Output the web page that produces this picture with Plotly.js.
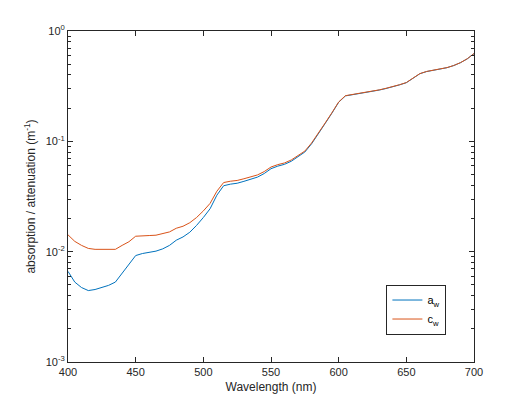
<!DOCTYPE html>
<html>
<head>
<meta charset="utf-8">
<script src="https://cdn.plot.ly/plotly-3.0.1.min.js"></script>
<style>
html,body{margin:0;padding:0;background:#fff;}
#chart{width:525px;height:407px;}
</style>
</head>
<body>
<div id="chart"></div>
<script>
var wavelength = [400,405,410,415,420,425,430,435,440,445,450,455,460,465,470,475,480,485,490,495,
  500,505,510,515,520,525,530,535,540,545,550,555,560,565,570,575,580,585,590,595,
  600,605,610,615,620,625,630,635,640,645,650,655,660,665,670,675,680,685,690,695,700];

var a_w = [0.00663,0.00530,0.00473,0.00444,0.00454,0.00478,0.00495,0.00530,0.00635,0.00751,
  0.00922,0.00962,0.00979,0.01011,0.0106,0.0114,0.0127,0.0136,0.0150,0.0173,
  0.0204,0.0245,0.0325,0.0396,0.0409,0.0417,0.0434,0.0452,0.0474,0.0511,
  0.0565,0.0596,0.0619,0.0660,0.0725,0.0800,0.0950,0.1160,0.1450,0.1800,
  0.2260,0.2580,0.2644,0.2678,0.2755,0.2834,0.2916,0.3012,0.3108,0.3250,
  0.3400,0.3710,0.4100,0.4290,0.4390,0.4480,0.4650,0.4860,0.5160,0.5590,0.6240];

var c_w = [0.0142,0.0124,0.0114,0.0107,0.0105,0.0105,0.0104,0.0105,0.0114,0.0123,
  0.0138,0.0140,0.0140,0.0141,0.0145,0.0151,0.0163,0.0170,0.0183,0.0204,
  0.0234,0.0274,0.0353,0.0423,0.0435,0.0442,0.0458,0.0475,0.0496,0.0532,
  0.0585,0.0615,0.0637,0.0678,0.0742,0.0816,0.0966,0.1175,0.1465,0.1814,
  0.2274,0.2593,0.2657,0.2690,0.2767,0.2845,0.2927,0.3023,0.3118,0.3260,
  0.3410,0.3720,0.4109,0.4299,0.4399,0.4488,0.4658,0.4868,0.5168,0.5597,0.6247];

var xTicks = [400,450,500,550,600,650,700];
var yTickVals = [0.001,0.01,0.1,1];
var yTickText = ['10<sup>-3</sup>','10<sup>-2</sup>','10<sup>-1</sup>','10<sup>0</sup>'];

var minorY = [];
for (var d = 0; d < 3; d++) {
  for (var m = 2; m <= 9; m++) minorY.push(m * Math.pow(10, d - 3));
}

var font = 'Liberation Sans, Arial, Helvetica, sans-serif';
var axisColor = '#262626';

var traces = [
  {x: wavelength, y: a_w, type: 'scatter', mode: 'lines', name: 'a<sub>w</sub>',
   line: {color: '#0072BD', width: 1}},
  {x: wavelength, y: c_w, type: 'scatter', mode: 'lines', name: 'c<sub>w</sub>',
   line: {color: '#D95319', width: 1}}
];

var layout = {
  width: 525, height: 407,
  margin: {l: 68, r: 51, t: 31, b: 45},
  paper_bgcolor: '#fff', plot_bgcolor: '#fff',
  font: {family: font, size: 11, color: axisColor},
  showlegend: true,
  legend: {
    x: 0.932, y: 0.083, xanchor: 'right', yanchor: 'bottom',
    bgcolor: '#fff', bordercolor: axisColor, borderwidth: 1,
    font: {family: font, size: 11, color: '#000'},
    tracegroupgap: 0
  },
  xaxis: {
    range: [400, 700], tickmode: 'array', tickvals: xTicks,
    ticks: 'inside', ticklen: 5, tickcolor: axisColor,
    showline: true, linecolor: axisColor, linewidth: 1, mirror: 'ticks',
    showgrid: false, zeroline: false,
    tickfont: {size: 11},
    title: {text: 'Wavelength (nm)', font: {size: 12}, standoff: 5}
  },
  yaxis: {
    type: 'log', range: [-3, 0], tickmode: 'array', tickvals: yTickVals, ticktext: yTickText,
    ticks: 'inside', ticklen: 5, tickcolor: axisColor,
    showline: true, linecolor: axisColor, linewidth: 1, mirror: 'ticks',
    showgrid: false, zeroline: false,
    tickfont: {size: 11},
    minor: {tickmode: 'array', tickvals: minorY, ticks: 'inside', ticklen: 3, tickcolor: axisColor, showgrid: false},
    title: {text: 'absorption / attenuation (m<sup>-1</sup>)', font: {size: 12}, standoff: 7}
  }
};

Plotly.newPlot('chart', traces, layout, {displayModeBar: false, staticPlot: true});
</script>
</body>
</html>
